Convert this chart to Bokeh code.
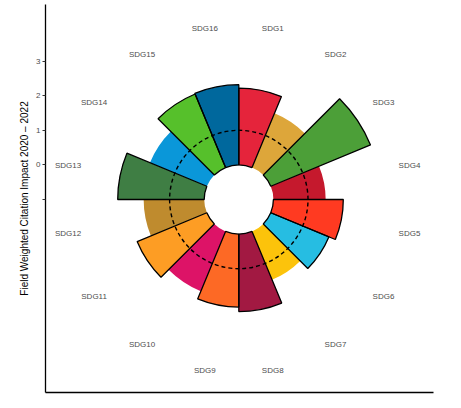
import numpy as np
from bokeh.plotting import figure
from bokeh.models import Range1d, FixedTicker, ColumnDataSource
from bokeh.core.properties import value
from bokeh.embed import file_html
from bokeh.resources import INLINE

# ---- data ----
sdg = ["SDG1", "SDG2", "SDG3", "SDG4", "SDG5", "SDG6", "SDG7", "SDG8",
       "SDG9", "SDG10", "SDG11", "SDG12", "SDG13", "SDG14", "SDG15", "SDG16"]
fwci = [2.22, 1.70, 3.12, 1.51, 2.02, 1.82, 1.51, 2.24,
        2.11, 1.87, 2.18, 1.75, 2.50, 1.78, 2.30, 2.32]
outlined = [True, False, True, False, True, True, False, True,
            True, False, True, False, True, False, True, True]
colors = ["#E5243B", "#DDA63A", "#4C9F38", "#C5192D", "#FF3A21", "#26BDE2",
          "#FCC30B", "#A21942", "#FD6925", "#DD1367", "#FD9D24", "#BF8B2E",
          "#3F7E44", "#0A97D9", "#56C02B", "#00689D"]
y_tick_values = [-1, 0, 1, 2, 3]
y_tick_labels = ["", "0", "1", "2", "3"]
reference_line = 1
y_floor = -1          # radial scale starts at -1 -> hole in the middle
label_level = 4.03    # radial position of the category labels

# ---- geometry derived from the data ----
n = len(sdg)
step = 2 * np.pi / n
idx = np.arange(n)
start = np.pi / 2 - (idx + 1) * step
end = np.pi / 2 - idx * step
mid = np.pi / 2 - (idx + 0.5) * step

src = ColumnDataSource(dict(
    sdg=sdg, outer=[v - y_floor for v in fwci], inner=[0 - y_floor] * n,
    start=start, end=end, color=colors,
    lc=["black" if o else None for o in outlined],
))

p = figure(width=445, height=400,
           x_range=Range1d(-5.587, 5.627), y_range=Range1d(-5.578, 5.636),
           output_backend="svg", toolbar_location=None,
           min_border_left=45, min_border_right=12,
           min_border_top=4, min_border_bottom=8)
p.xgrid.visible = False
p.ygrid.visible = False
p.outline_line_color = None
p.background_fill_color = "white"

p.annular_wedge(x=0, y=0, inner_radius="inner", outer_radius="outer",
                start_angle="start", end_angle="end", source=src,
                fill_color="color", line_color=None)
p.annular_wedge(x=0, y=0, inner_radius="inner", outer_radius="outer",
                start_angle="start", end_angle="end", source=src,
                fill_color=None, line_color="lc", line_width=1.3)

p.arc(x=0, y=0, radius=reference_line - y_floor, start_angle=0,
      end_angle=2 * np.pi, line_color="black", line_dash="4 3", line_width=1.4)

lr = label_level - y_floor
p.text(x=lr * np.cos(mid), y=lr * np.sin(mid), text=sdg,
       text_align="center", text_baseline="middle",
       text_font=value("Liberation Sans"), text_font_size="8px",
       text_color="#4D4D4D")

# y axis
ya = p.yaxis[0]
ya.ticker = FixedTicker(ticks=[v - y_floor for v in y_tick_values])
ya.major_label_overrides = {float(v - y_floor): l for v, l in zip(y_tick_values, y_tick_labels)}
ya.axis_label = "Field Weighted Citation Impact 2020 \u2013 2022"
ya.axis_label_text_font = "Liberation Sans"
ya.axis_label_text_font_size = "10px"
ya.axis_label_text_font_style = "normal"
ya.axis_label_text_color = "black"
ya.axis_label_standoff = 3
ya.major_label_text_font = "Liberation Sans"
ya.major_label_text_font_size = "8px"
ya.major_label_text_color = "#4D4D4D"
ya.major_label_standoff = 2
ya.major_tick_out = 3
ya.major_tick_in = 0
ya.minor_tick_out = 0
ya.minor_tick_in = 0
ya.major_tick_line_color = "#333333"
ya.axis_line_color = "black"
ya.axis_line_width = 1.3

# x axis: line only
xa = p.xaxis[0]
xa.ticker = FixedTicker(ticks=[])
xa.major_label_text_font_size = "0px"
xa.major_tick_out = 0
xa.major_tick_in = 0
xa.minor_tick_out = 0
xa.minor_tick_in = 0
xa.axis_line_color = "black"
xa.axis_line_width = 1.3

open("out.html", "w").write(file_html(p, INLINE))
